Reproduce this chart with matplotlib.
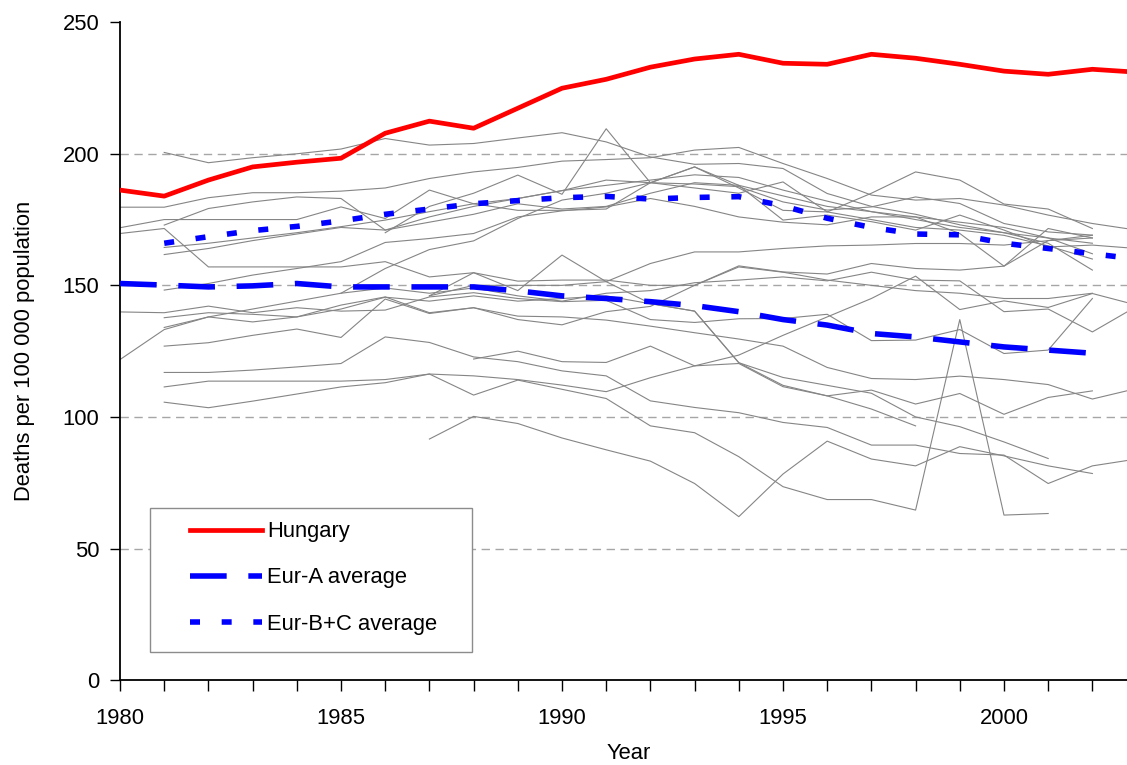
import numpy as np
import matplotlib
matplotlib.use("Agg")
import matplotlib.pyplot as plt
from matplotlib.patches import Rectangle

plt.rcParams['font.family'] = ['Liberation Sans', 'DejaVu Sans']
plt.rcParams['font.size'] = 15.8

n = np.nan
years = list(range(1980, 2004))

hungary = [186.2, 183.9, 190, 195, 196.8, 198.3, 207.8, 212.4, 209.7, 217.3, 224.9, 228.3,
           232.9, 236, 237.8, 234.4, 234, 237.8, 236.3, 234, 231.4, 230.2, 232.1, 231]
eur_a = [150.7, 150.1, 149.4, 149.8, 150.7, 149.4, 149.4, 149.4, 149.4, 147.9, 146, 145,
         143.8, 142.3, 140, 137, 134.9, 131.7, 130.4, 128.5, 126.6, 125.4, 124.2, n]
eur_bc = [n, 166, 168.5, 170.8, 172.4, 174.5, 177, 179, 181, 182.2, 183.3, 183.8,
          182.8, 183.4, 183.7, 180.2, 175.5, 172, 169.5, 169.2, 166, 164, 162, 160]

# other countries (grey lines), 1980-2003
countries = [
    [n, 200.5, 196.6, 198.5, 200, 201.8, 205.8, 203.3, 203.9, 206, 208, 204.5, 198.8, 196, 196.3, 194.4, 184.9, 180, 177, 173, 170, 168, 166, n],
    [179.7, 179.7, 183.3, 185.2, 185.2, 185.8, 187, 190.6, 193.1, 194.8, 197.2, 197.8, 198.5, 201.4, 202.4, 196.3, 190.6, 184.3, 182.4, 183, 180.5, 176.7, 173.5, 171],
    [n, 172.9, 179.2, 181.7, 183.6, 183, 171, 176, 180, 183, 186, 190, 189, 188.5, 187.5, 181.7, 178.6, 179.8, 183.6, 181.1, 173.5, 170.3, 169.1, n],
    [171.9, 175, 175, 175, 175, 179.8, 175.4, 186.2, 181, 178.5, 178.5, 179, 189, 195, 187, 178.5, 177.9, 185, 193.1, 190, 180.9, 179, 171.6, n],
    [169.7, 171.6, 157, 157, 157, 157, 159, 153.2, 154.8, 151.6, 152, 152, 150, 150, 157.4, 155.1, 154.3, 158.3, 156.4, 155.8, 157.3, 171.6, 168, n],
    [n, 164.4, 166, 168, 170, 172.3, 174.8, 178, 181, 183, 186, 188, 190, 192, 191, 186.2, 182, 178, 175, 172, 170, 166, 155.8, n],
    [n, 161.7, 164, 167, 169.5, 172, 171, 174, 177, 181, 179, 180, 185, 189, 188, 174.8, 176.7, 174.2, 171, 176.7, 171, 164.6, 165.3, 164],
    [n, 148.2, 150.7, 153.9, 156.4, 159, 166.3, 167.8, 169.7, 176, 178.3, 179.8, 183, 180, 176, 174, 173, 176, 176, 169.7, 157.3, 167, 168, n],
    [n, 134, 138, 141, 144, 147, 156.4, 163.6, 166.9, 175.4, 182.4, 185, 189, 195, 188, 184, 180, 178, 176, 174, 172, 168, 162, n],
    [n, n, n, n, n, n, 170, 180, 185, 191.9, 184.6, 209.5, 189, 187, 185, 189.3, 177.9, 175, 172, 171, 169, 165, 160, n],
    [n, n, n, n, n, n, n, 146, 150, 150, 150, 151.4, 158.3, 162.7, 162.7, 164, 165, 165.3, 165.9, 165.9, 165.3, 167, 169, n],
    [n, n, n, n, n, 147, 149, 147, 149, 146, 144, 147, 148, 151, 152, 153.2, 151.7, 155, 152, 151.7, 140, 141, 132.3, 142],
    [n, n, n, n, n, n, n, 146, 154.8, 148, 161.5, 151.4, 143.1, 140.2, 120.6, 115, 112, 109, 100, 96.3, 90.5, 84.2, n, n],
    [n, n, n, n, n, n, n, n, 122, 125, 121, 120.7, 126.9, 119.4, 123.5, 131, 138, 145, 153.5, 140.8, 144.1, 141.6, 146.9, 142.5],
    [139.9, 139.6, 142.1, 139.6, 141.5, 140.2, 140.6, 145.6, 147.2, 145, 143.8, 144.3, 137, 135.9, 137.3, 137.4, 139, 129, 129.2, 133.2, 124.1, 125.4, 145, n],
    [n, 137.7, 139.6, 139, 138, 142.5, 145.6, 139.6, 141.5, 138.3, 138, 136.8, 134.5, 132, 129.6, 126.9, 118.8, 114.6, 114.2, 115.5, 114.2, 112.3, 106.8, 110.8],
    [121.8, 133.2, 138, 136.1, 138, 141, 145.5, 144, 146, 144, 145, 146, 143, 140.2, 120.6, 112, 108, 103, 96.6, n, n, n, n, n],
    [n, 126.9, 128.2, 131, 133.4, 130.2, 144.8, 139.3, 141.5, 137, 135, 140, 142, 150, 157, 155, 152, 150, 148, 147, 145, 145, 147, n],
    [n, 116.9, 116.9, 117.8, 119, 120.3, 130.4, 128.3, 122.8, 121, 117.5, 115.6, 106.1, 103.6, 101.6, 97.9, 96, 89.3, 89.3, 86.1, 85.5, 74.7, 81.4, 84],
    [n, 111.4, 113.6, 113.6, 113.6, 113.6, 114.2, 116.3, 115.6, 114.2, 112.1, 109.6, 114.9, 119.4, 120.3, 111.5, 108, 110.2, 104.9, 108.9, 101, 107.4, 109.9, n],
    [n, 105.6, 103.5, 106, 108.7, 111.4, 113, 116.3, 108.3, 114, 110.5, 107, 96.6, 94, 84.9, 73.5, 68.6, 68.6, 64.6, 137, 62.7, 63.3, n, n],
    [n, n, n, n, n, n, n, 91.6, 100.2, 97.5, 92, 87.5, 83.2, 74.7, 62.1, 78.3, 90.8, 84, 81.4, 88.7, 85.2, 81.4, 78.5, n],
]

fig = plt.figure(figsize=(11.27, 7.65), dpi=100)
ax = fig.add_axes([0.1065, 0.111, 0.902, 0.860])

for v in [50, 100, 150, 200]:
    ax.axhline(v, color='#a6a6a6', lw=1, ls=(0, (6, 4)), zorder=0)

for c in countries:
    ax.plot(years, np.array(c, dtype=float), color='#858585', lw=0.8, zorder=1)

ax.plot(years, eur_a, color='#0000ff', lw=4, dashes=(6.6, 3.9),
        solid_capstyle='butt', dash_capstyle='butt', label='Eur-A average', zorder=3)
ax.plot(years, eur_bc, color='#0000ff', lw=4, dashes=(1.8, 3.9),
        dash_capstyle='butt', label='Eur-B+C average', zorder=3)
ax.plot(years, hungary, color='#ff0000', lw=3.4, label='Hungary', zorder=4)

ax.set_xlim(1980, 2003)
ax.set_ylim(0, 250)
ax.set_xticks(years)
ax.set_xticklabels([str(y) if y % 5 == 0 else '' for y in years])
ax.set_yticks([0, 50, 100, 150, 200, 250])
ax.tick_params(axis='x', length=8, width=1, pad=12)
ax.tick_params(axis='y', length=7, width=1, pad=8)

for s in ['top', 'right']:
    ax.spines[s].set_visible(False)
for s in ['left', 'bottom']:
    ax.spines[s].set_linewidth(1.3)

ax.set_ylabel('Deaths per 100 000 population')
ax.yaxis.set_label_coords(-0.084, 0.5)
ax.set_xlabel('Year')
ax.xaxis.set_label_coords(0.5, -0.095)

# legend box
ax.add_patch(Rectangle((0.0295, 0.0426), 0.3167, 0.2188, transform=ax.transAxes,
                       facecolor='white', edgecolor='#8c8c8c', lw=1, zorder=5))
h, l = ax.get_legend_handles_labels()
order = [2, 0, 1]
leg = ax.legend([h[i] for i in order], [l[i] for i in order], loc='upper left',
                bbox_to_anchor=(0.0689, 0.2415), frameon=False, borderpad=0,
                borderaxespad=0, handlelength=3.3, handletextpad=0.2, labelspacing=1.15)
leg.set_zorder(6)

fig.savefig('out.png', dpi=100)
